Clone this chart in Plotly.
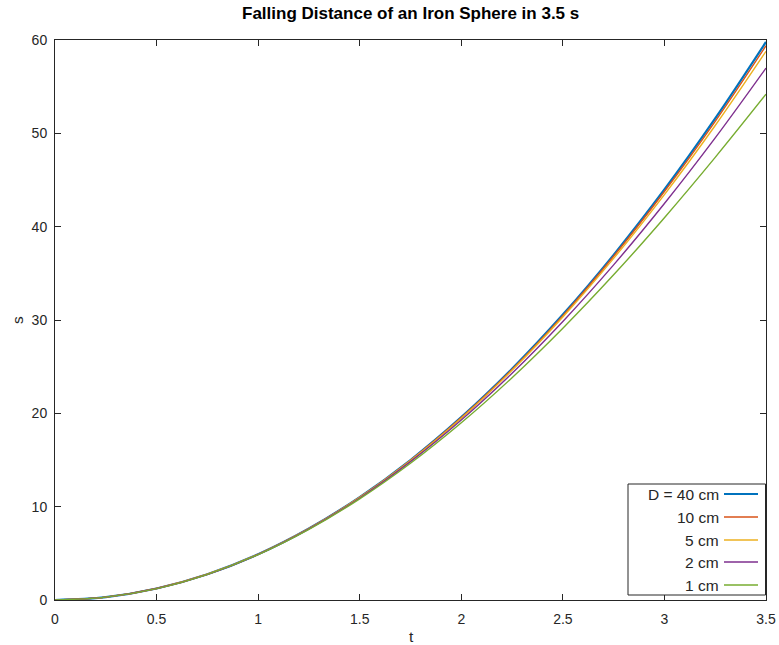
import plotly.graph_objects as go

t = [0, 0.25, 0.5, 0.75, 1.0, 1.25, 1.5, 1.75, 2.0, 2.25, 2.5, 2.75, 3.0, 3.25, 3.5]

s_40cm = [0, 0.31, 1.23, 2.76, 4.90, 7.66, 11.03, 15.00, 19.59, 24.78, 30.58, 36.98, 43.98, 51.59, 59.79]
s_10cm = [0, 0.31, 1.23, 2.76, 4.90, 7.65, 11.01, 14.98, 19.55, 24.71, 30.47, 36.83, 43.77, 51.29, 59.39]
s_5cm = [0, 0.31, 1.23, 2.76, 4.90, 7.64, 10.99, 14.94, 19.48, 24.61, 30.32, 36.60, 43.44, 50.84, 58.79]
s_2cm = [0, 0.31, 1.23, 2.75, 4.88, 7.61, 10.93, 14.83, 19.29, 24.30, 29.85, 35.91, 42.48, 49.51, 56.99]
s_1cm = [0, 0.31, 1.22, 2.75, 4.87, 7.57, 10.84, 14.65, 18.99, 23.82, 29.12, 34.84, 40.96, 47.42, 54.19]

names = ["D = 40 cm", "10 cm", "5 cm", "2 cm", "1 cm"]
series = [s_40cm, s_10cm, s_5cm, s_2cm, s_1cm]
colors = ["#0072BD", "#D95319", "#EDB120", "#7E2F8E", "#77AC30"]
widths = [2.2, 1.4, 1.4, 1.4, 1.4]

x_ticks = [0, 0.5, 1, 1.5, 2, 2.5, 3, 3.5]
x_ticklabels = ["0", "0.5", "1", "1.5", "2", "2.5", "3", "3.5"]
y_ticks = [0, 10, 20, 30, 40, 50, 60]

fig = go.Figure()
for name, ys, c, w in zip(names, series, colors, widths):
    fig.add_trace(go.Scatter(x=t, y=ys, mode="lines", name=name,
                             line=dict(color=c, width=w, shape="spline", smoothing=1.0),
                             showlegend=False))

font_family = "Liberation Sans, Arial, Helvetica, sans-serif"
W, H = 779, 645
L, R, T, B = 55, 766, 40, 600
pw, ph = R - L, B - T

def px(x):
    return (x - L) / pw

def py(y):
    return (B - y) / ph

# custom legend (text on left, line sample on right, like Octave)
shapes = [dict(type="rect", xref="paper", yref="paper", x0=px(628), x1=px(765.5), y0=py(595), y1=py(484),
               line=dict(color="#262626", width=1), fillcolor="white", layer="above")]
annotations = []
row_y = [494, 517, 540, 562, 585]
for name, c, w, yy in zip(names, colors, widths, row_y):
    shapes.append(dict(type="line", xref="paper", yref="paper", x0=px(724), x1=px(758), y0=py(yy), y1=py(yy),
                       line=dict(color=c, width=w), layer="above"))
    annotations.append(dict(xref="paper", yref="paper", x=px(721), y=py(yy), text=name, showarrow=False,
                            xanchor="right", yanchor="middle",
                            font=dict(family=font_family, size=15.5, color="#262626")))

# axis titles
annotations.append(dict(xref="paper", yref="paper", x=px(411), y=py(636), text="t", showarrow=False,
                        xanchor="center", yanchor="middle",
                        font=dict(family=font_family, size=15.5, color="#262626")))
annotations.append(dict(xref="paper", yref="paper", x=px(17), y=py(320), text="s", showarrow=False,
                        xanchor="center", yanchor="middle", textangle=-90,
                        font=dict(family=font_family, size=15.5, color="#262626")))
annotations.append(dict(xref="paper", yref="paper", x=px(410), y=py(14),
                        text="<b>Falling Distance of an Iron Sphere in 3.5 s</b>", showarrow=False,
                        xanchor="center", yanchor="middle",
                        font=dict(family=font_family, size=17, color="black")))

fig.update_layout(
    width=W, height=H,
    margin=dict(l=L, r=W - R, t=T, b=H - B, autoexpand=False),
    paper_bgcolor="white", plot_bgcolor="white",
    font=dict(family=font_family, size=14, color="#262626"),
    shapes=shapes, annotations=annotations,
    showlegend=False,
)
fig.update_xaxes(range=[0, 3.5], tickvals=x_ticks, ticktext=x_ticklabels, ticks="inside", ticklen=6,
                 tickcolor="#262626", showline=True, linecolor="#262626", linewidth=1, mirror="ticks",
                 showgrid=False, zeroline=False, automargin=False, ticklabeloverflow="allow",
                 ticklabelstandoff=6)
fig.update_yaxes(range=[0, 60], tickvals=y_ticks, ticks="inside", ticklen=6,
                 tickcolor="#262626", showline=True, linecolor="#262626", linewidth=1, mirror="ticks",
                 showgrid=False, zeroline=False, automargin=False, ticklabelstandoff=4)

fig.write_html("out.html", config={"displayModeBar": False},
               post_script="document.body.style.margin='0';")
